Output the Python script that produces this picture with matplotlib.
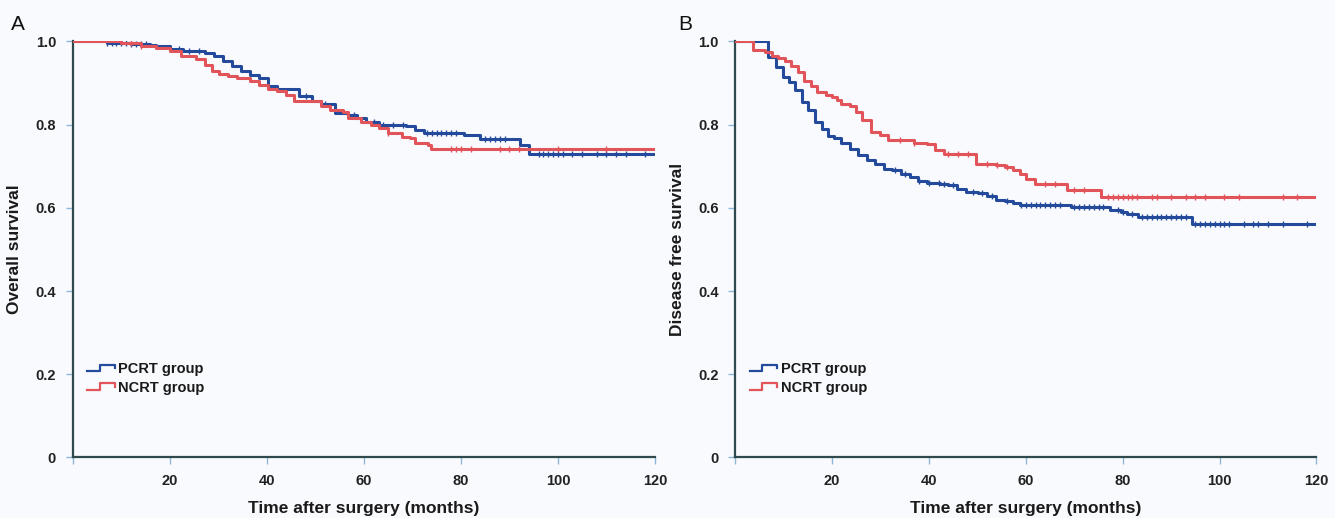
import numpy as np
import matplotlib
matplotlib.use("Agg")
import matplotlib.pyplot as plt
from matplotlib.lines import Line2D
from matplotlib.legend_handler import HandlerBase

# ---- data (months, survival) ----
# Panel A: overall survival
os_pcrt_t = [0, 7, 12, 16, 17.2, 20, 22.7, 27.3, 29.2, 31, 32.8, 34.7, 36.5, 38.4, 40.2, 42,
             46.6, 49.4, 51.2, 54, 56.8, 58.6, 60.4, 63.2, 68.7, 70.6, 72.4, 80.7, 83.9,
             92.2, 94, 120]
os_pcrt_s = [1.0, 0.997, 0.994, 0.991, 0.988, 0.982, 0.978, 0.972, 0.964, 0.952, 0.94, 0.928,
             0.92, 0.912, 0.892, 0.885, 0.868, 0.857, 0.849, 0.828, 0.823, 0.815, 0.807, 0.799,
             0.797, 0.787, 0.781, 0.775, 0.766, 0.751, 0.730, 0.730]
os_ncrt_t = [0, 10, 14, 17.2, 20, 22.3, 25.5, 27.3, 28.7, 30.1, 31.9, 33.8, 36.5, 38.4, 40.2,
             42, 43.9, 45.7, 51.2, 53.1, 55.8, 56.8, 59.5, 61.4, 63.2, 65, 67.8, 69.6, 70.6,
             73.3, 73.8, 120]
os_ncrt_s = [1.0, 0.996, 0.99, 0.984, 0.976, 0.964, 0.958, 0.944, 0.928, 0.922, 0.917, 0.912,
             0.904, 0.896, 0.885, 0.880, 0.872, 0.856, 0.845, 0.835, 0.831, 0.815, 0.807, 0.799,
             0.791, 0.781, 0.771, 0.767, 0.757, 0.750, 0.742, 0.742]
os_pcrt_cens = [7, 8, 9, 10, 11, 12, 13, 14, 15, 22, 24, 26, 48, 52, 58, 62, 64, 66, 68, 73, 74,
                75, 76, 77, 78, 79, 85, 86, 87, 88, 89, 96, 97, 98, 99, 100, 101, 103, 105, 108,
                110, 112, 114, 118]
os_ncrt_cens = [12, 14, 65, 78, 79, 80, 82, 88, 90, 92, 100, 110]

# Panel B: disease free survival
dfs_pcrt_t = [0, 5.8, 6.7, 8.4, 9.8, 11.1, 12.4, 13.8, 15.1, 16.4, 17.8, 19.1, 20.4, 21.8, 23.6,
              25.3, 27.1, 28.9, 30.7, 32.4, 34.2, 36, 37.8, 39.6, 42.2, 44, 45.8, 47.6, 50.2,
              52, 53.8, 55.6, 57.3, 58.7, 69.3, 77.3, 79.6, 80.9, 83.1, 94.2, 120]
dfs_pcrt_s = [1.0, 1.0, 0.962, 0.938, 0.914, 0.902, 0.882, 0.854, 0.834, 0.806, 0.790, 0.772,
              0.769, 0.756, 0.742, 0.726, 0.716, 0.706, 0.694, 0.690, 0.682, 0.673, 0.664,
              0.660, 0.658, 0.654, 0.646, 0.638, 0.636, 0.628, 0.620, 0.616, 0.612, 0.608,
              0.603, 0.594, 0.590, 0.585, 0.578, 0.562, 0.562]
dfs_ncrt_t = [0, 3.6, 6.2, 7.6, 8.9, 10.2, 11.6, 12.9, 14.2, 15.6, 16.9, 18.7, 20, 20.9, 21.8,
              23.6, 24.9, 26.2, 28, 29.8, 31.6, 35.1, 36.9, 39.6, 41.3, 43.1, 49.8, 53.8, 55.6,
              57.3, 58.7, 60, 61.8, 68.4, 75.6, 120]
dfs_ncrt_s = [1.0, 0.980, 0.974, 0.966, 0.961, 0.954, 0.942, 0.926, 0.906, 0.892, 0.878, 0.870,
              0.866, 0.858, 0.849, 0.844, 0.830, 0.810, 0.782, 0.774, 0.764, 0.762, 0.756,
              0.753, 0.738, 0.730, 0.706, 0.704, 0.698, 0.692, 0.682, 0.670, 0.658, 0.643,
              0.626, 0.626]
dfs_pcrt_cens = [33, 35, 38, 40, 42, 43, 45, 49, 51, 53, 56, 59, 60, 61, 62, 63, 64, 65, 66, 67,
                 70, 71, 72, 73, 74, 75, 76, 79, 80, 82, 84, 85, 86, 87, 88, 89, 90, 91, 92,
                 93, 95, 96, 97, 98, 99, 100, 101, 102, 105, 107, 108, 110, 113, 118]
dfs_ncrt_cens = [34, 37, 44, 46, 48, 52, 54, 56, 64, 66, 70, 72, 77, 78, 79, 80, 81, 82, 83, 86,
                 87, 90, 93, 95, 97, 101, 104, 113, 116]

groups = ["PCRT group", "NCRT group"]
blue = "#234a9b"
red = "#e0545a"
spine_col = "#2f4a4e"
tick_col = "#8fb7d9"
bg = "#f9fafd"

sans = ["Liberation Sans", "DejaVu Sans"]


class StepHandler(HandlerBase):
    def create_artists(self, legend, orig_handle, xdescent, ydescent, width, height,
                       fontsize, trans):
        xs = np.array([0, 0.45, 0.45, 1.0, 1.0]) * width - xdescent
        ys = np.array([0.2, 0.2, 0.85, 0.85, 0.5]) * height - ydescent
        ln = Line2D(xs, ys, color=orig_handle.get_color(), lw=1.6)
        ln.set_transform(trans)
        return [ln]


def surv_at(t, s, c):
    idx = np.searchsorted(t, c, side="right") - 1
    return np.asarray(s)[idx]


def km_panel(ax, series, ylabel):
    ax.set_facecolor(bg)
    handles = []
    for (t, s, c), col, lab in zip(series, [blue, red], groups):
        h, = ax.step(t, s, where="post", color=col, lw=2.2, label=lab, zorder=3)
        ax.plot(c, surv_at(t, s, c), ls="none", marker="|", ms=4, mew=1.0, color=col, zorder=3)
        handles.append(h)
    ax.set_xlim(0, 120)
    ax.set_ylim(0, 1.0)
    ax.set_xticks([0, 20, 40, 60, 80, 100, 120])
    ax.set_xticklabels(["", "20", "40", "60", "80", "100", "120"])
    ax.set_yticks([0, 0.2, 0.4, 0.6, 0.8, 1.0])
    ax.set_yticklabels(["0", "0.2", "0.4", "0.6", "0.8", "1.0"])
    for sp in ["top", "right"]:
        ax.spines[sp].set_visible(False)
    for sp in ["left", "bottom"]:
        ax.spines[sp].set_color(spine_col)
        ax.spines[sp].set_linewidth(1.6)
    ax.tick_params(direction="out", length=5, width=1.0, color=tick_col, pad=7)
    for lb in ax.get_xticklabels() + ax.get_yticklabels():
        lb.set_fontfamily(sans)
        lb.set_fontweight("bold")
        lb.set_fontsize(10.5)
        lb.set_color("#222222")
    ax.set_xlabel("Time after surgery (months)", fontsize=12.5, fontweight="bold",
                  family=sans, color="#1a1a1a")
    ax.xaxis.set_label_coords(0.5, -0.105)
    ax.set_ylabel(ylabel, fontsize=12.5, fontweight="bold", family=sans, color="#1a1a1a")
    ax.yaxis.set_label_coords(-0.087, 0.5)
    leg = ax.legend(handles=handles, loc="center left", bbox_to_anchor=(0.012, 0.19),
                    frameon=False, handlelength=1.9, handletextpad=0.25, labelspacing=0.3,
                    borderpad=0, handler_map={Line2D: StepHandler()},
                    prop={"family": sans, "weight": "bold", "size": 10.5})
    for tx in leg.get_texts():
        tx.set_color("#1a1a1a")


fig = plt.figure(figsize=(13.35, 5.18), dpi=100, facecolor=bg)
axA = fig.add_axes([0.0545, 0.1168, 0.4361, 0.8033])
axB = fig.add_axes([0.5508, 0.1168, 0.4353, 0.8033])

km_panel(axA, [(os_pcrt_t, os_pcrt_s, os_pcrt_cens), (os_ncrt_t, os_ncrt_s, os_ncrt_cens)],
         "Overall survival")
km_panel(axB, [(dfs_pcrt_t, dfs_pcrt_s, dfs_pcrt_cens), (dfs_ncrt_t, dfs_ncrt_s, dfs_ncrt_cens)],
         "Disease free survival")

fig.text(18 / 1335, 1 - 25 / 518, "A", fontsize=15, family=sans, ha="center", va="center",
         color="#111111")
fig.text(685 / 1335, 1 - 25 / 518, "B", fontsize=15, family=sans, ha="center", va="center",
         color="#111111")

fig.savefig("out.png", dpi=100, facecolor=bg)
plt.close(fig)
